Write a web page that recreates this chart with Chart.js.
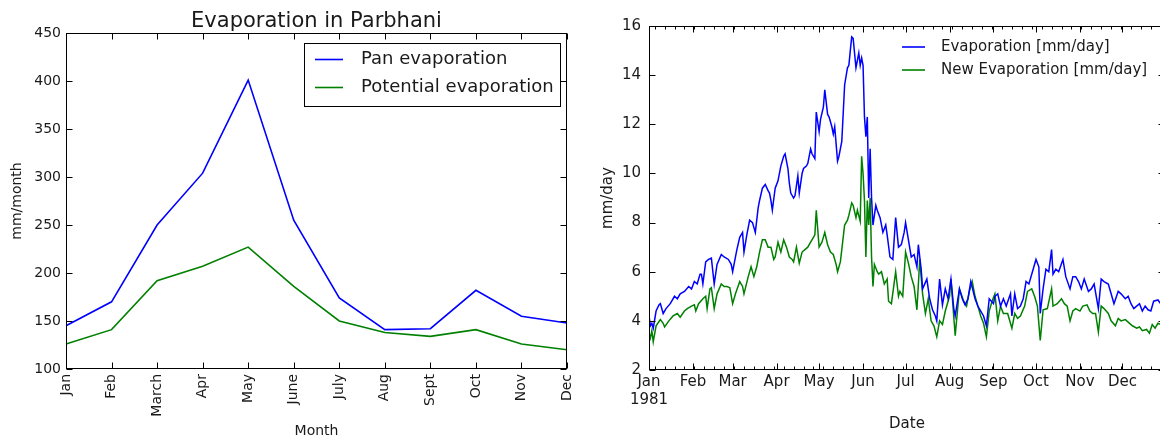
<!DOCTYPE html>
<html><head><meta charset="utf-8">
<script src="https://cdn.jsdelivr.net/npm/chart.js@4.4.1/dist/chart.umd.min.js"></script>
<style>
html,body{margin:0;padding:0;background:#fff;overflow:hidden;width:1160px;height:441px;}
#wrap{position:relative;width:1160px;height:441px;overflow:hidden;background:#fff;}
#c1{position:absolute;left:0;top:0;}
#c2{position:absolute;left:580px;top:0;}
</style></head><body>
<div id="wrap"><canvas id="c1" width="600" height="441"></canvas><canvas id="c2" width="610" height="441"></canvas></div>
<script>
// ---------- Left chart data ----------
const months = ['Jan','Feb','March','Apr','May','June','July','Aug','Sept','Oct','Nov','Dec'];
const panEvap = [145,170,250,304,401,255,174,141,142,182,155,148];
const potEvap = [126,141,192,207,227,186,150,138,134,141,126,120];
const leftTitle = 'Evaporation in Parbhani';
const leftYTicks = {min:100, max:450, step:50};

// ---------- Right chart data ----------
const monthNames = ['Jan','Feb','Mar','Apr','May','Jun','Jul','Aug','Sep','Oct','Nov','Dec'];
const monthStartDays = [0,31,59,90,120,151,181,212,243,273,304,334];
const yearLabel = '1981';
const rightYTicks = {min:2, max:16, step:2};
// [day of year, mm/day]
const evapDaily = [[0,4.2],[1,3.8],[2,3.9],[3,3.7],[5,4.4],[7,4.65],[8,4.7],[10,4.3],[12,4.5],[15,4.7],[18,5.0],[20,4.9],[22,5.1],[25,5.2],[28,5.4],[30,5.3],[32,5.6],[34,5.5],[36,5.9],[37,5.9],[38,5.5],[40,6.4],[42,6.5],[44,6.55],[46,5.5],[48,6.3],[51,6.7],[53,6.6],[56,6.5],[58,6.3],[59,6.0],[61,6.6],[62,6.9],[64,7.4],[66,7.6],[67,6.8],[69,7.5],[71,8.1],[73,8.0],[75,7.6],[77,8.6],[78,8.9],[80,9.4],[82,9.55],[84,9.3],[85,9.2],[86,8.9],[87,8.5],[89,9.4],[91,9.7],[93,10.3],[95,10.7],[96,10.8],[98,10.2],[99,9.6],[100,9.2],[102,9.0],[103,9.1],[105,9.9],[106,9.2],[108,10.0],[109,10.2],[111,10.3],[112,10.4],[114,11.0],[115,10.8],[117,10.6],[118,12.5],[120,11.7],[121,12.2],[123,12.7],[124,13.4],[126,12.4],[127,12.3],[129,11.9],[130,11.6],[131,11.9],[133,10.5],[134,10.7],[136,11.3],[138,13.6],[140,14.3],[141,14.4],[142,15.0],[143,15.56],[144,15.5],[146,14.3],[147,14.6],[148,14.9],[149,14.4],[150,14.7],[151,14.4],[152,12.3],[153,11.5],[154,12.3],[155,9.0],[156,11.0],[157,9.0],[158,7.9],[160,8.7],[161,8.5],[163,8.2],[165,7.6],[167,7.9],[168,7.5],[170,6.6],[172,6.5],[174,8.2],[176,7.0],[178,7.1],[180,7.6],[181,8.0],[183,7.3],[185,6.6],[187,6.7],[189,6.2],[190,7.1],[192,6.1],[193,5.3],[196,5.7],[198,4.9],[200,4.45],[202,4.2],[203,4.0],[205,5.7],[207,4.65],[209,5.3],[211,4.9],[213,5.7],[215,4.5],[216,4.2],[219,5.3],[221,4.9],[223,4.65],[225,4.9],[227,5.6],[230,4.9],[232,4.6],[234,4.4],[236,4.2],[238,3.8],[240,4.9],[243,4.7],[244,5.0],[246,5.1],[248,4.6],[250,4.9],[252,4.6],[255,5.1],[256,4.2],[258,5.1],[260,4.5],[262,4.6],[264,4.9],[266,5.6],[268,5.5],[271,6.1],[273,6.5],[275,6.2],[276,4.3],[278,5.3],[280,6.1],[282,6.0],[284,6.9],[285,5.9],[287,6.1],[289,6.0],[292,6.5],[294,5.8],[297,5.3],[299,5.8],[301,5.8],[303,5.6],[305,5.3],[307,5.7],[310,5.2],[312,5.3],[314,5.5],[317,4.5],[319,5.7],[321,5.6],[324,5.5],[326,5.1],[328,4.7],[331,5.2],[333,5.1],[336,4.9],[338,5.0],[340,4.7],[342,4.5],[344,4.6],[346,4.7],[348,4.4],[350,4.6],[352,4.45],[354,4.4],[356,4.8],[359,4.85],[361,4.7],[364,4.8]];
const newEvapDaily = [[0,3.5],[1,3.3],[2,3.6],[3,3.15],[5,3.8],[8,4.05],[10,3.9],[11,3.75],[14,4.0],[17,4.2],[20,4.3],[22,4.15],[25,4.4],[27,4.5],[30,4.6],[32,4.65],[33,4.4],[35,4.7],[38,4.9],[40,5.0],[41,4.5],[43,5.3],[44,5.35],[46,4.5],[48,5.1],[51,5.5],[53,5.4],[55,5.4],[57,5.35],[59,4.7],[61,5.1],[64,5.6],[66,5.4],[67,5.1],[70,5.8],[72,6.2],[74,5.8],[76,6.2],[78,6.8],[80,7.3],[82,7.3],[84,7.0],[86,7.0],[88,6.5],[89,6.6],[91,7.2],[93,6.8],[95,7.3],[97,7.0],[99,6.6],[101,6.5],[102,6.4],[104,7.0],[106,6.35],[108,6.8],[110,6.9],[112,7.0],[114,7.2],[116,7.4],[117,7.5],[118,8.5],[120,7.0],[122,7.2],[124,7.6],[126,7.1],[128,6.8],[130,6.7],[132,6.3],[133,6.0],[135,6.4],[138,7.9],[140,8.1],[141,8.3],[143,8.8],[144,8.7],[146,8.2],[147,8.5],[149,8.05],[150,10.7],[151,10.0],[152,8.9],[153,6.6],[154,8.9],[155,7.9],[156,9.0],[157,6.6],[158,5.4],[159,6.3],[161,6.0],[162,5.9],[164,6.0],[166,5.5],[168,5.7],[169,4.8],[171,4.7],[174,6.0],[176,5.0],[177,5.2],[179,5.0],[181,6.8],[183,6.35],[185,5.8],[187,5.4],[189,4.45],[191,6.5],[193,5.1],[195,4.3],[197,4.9],[199,4.0],[201,3.8],[203,3.35],[205,4.0],[207,3.85],[209,4.4],[212,5.0],[213,5.7],[216,3.4],[219,5.3],[222,4.8],[224,4.6],[226,5.2],[228,5.6],[230,5.0],[232,4.6],[234,4.2],[236,3.9],[238,3.35],[240,4.4],[242,4.8],[244,5.1],[246,4.0],[248,4.6],[250,4.3],[253,4.3],[256,3.7],[258,4.3],[260,4.1],[262,4.2],[265,4.6],[267,5.2],[270,5.3],[272,5.0],[274,4.6],[276,3.2],[278,4.45],[281,4.5],[284,5.3],[285,4.6],[288,4.7],[291,4.9],[293,4.7],[295,4.6],[297,4.0],[299,4.4],[301,4.5],[304,4.4],[306,4.6],[309,4.65],[311,4.4],[313,4.3],[315,4.3],[317,3.55],[319,4.6],[321,4.5],[324,4.3],[326,4.0],[329,3.8],[331,4.1],[333,4.0],[336,4.05],[339,3.9],[341,3.8],[344,3.7],[346,3.75],[348,3.6],[351,3.65],[353,3.5],[355,3.85],[357,3.7],[359,3.9],[361,3.85],[364,3.9]];

// ---------- styling ----------
const FAM = "'DejaVu Sans', 'Liberation Sans', sans-serif";
const TXT = '#1a1a1a';
const BLUE = '#0000ff';
const GREEN = '#008000';

const framePlugin = {
  id: 'frame',
  afterDatasetsDraw(chart, args, o) {
    const {ctx, chartArea: a, scales} = chart;
    const xs = scales.x, ys = scales.y;
    const L = Math.round(a.left) + 0.5, R = Math.round(a.right) - 0.5;
    const T = Math.round(a.top) + 0.5, B = Math.round(a.bottom) - 0.5;
    ctx.save();
    ctx.strokeStyle = '#000';
    ctx.lineWidth = 1;
    ctx.beginPath();
    const maj = o.majorLen || 6, mnr = o.minorLen || 3;
    const vt = (px, len) => { ctx.moveTo(px, B); ctx.lineTo(px, B - len); ctx.moveTo(px, T); ctx.lineTo(px, T + len); };
    xs.ticks.forEach((t, i) => vt(Math.round(xs.getPixelForTick(i)) + 0.5, maj));
    (o.xMinor || []).forEach(v => vt(Math.round(xs.getPixelForValue(v)) + 0.5, mnr));
    ys.ticks.forEach((t, i) => {
      const py = Math.round(ys.getPixelForTick(i)) + 0.5;
      ctx.moveTo(L, py); ctx.lineTo(L + maj, py);
      ctx.moveTo(R, py); ctx.lineTo(R - maj, py);
    });
    ctx.stroke();
    ctx.strokeRect(L, T, R - L, B - T);
    ctx.restore();
  }
};

const legendPlugin = {
  id: 'boxLegend',
  afterDraw(chart, args, o) {
    const ctx = chart.ctx;
    ctx.save();
    if (o.title) {
      ctx.font = o.titleFont;
      ctx.fillStyle = TXT;
      ctx.textAlign = 'center';
      ctx.textBaseline = 'alphabetic';
      ctx.fillText(o.title, (chart.chartArea.left + chart.chartArea.right) / 2, o.titleY);
    }
    if (o.box) {
      ctx.fillStyle = '#fff';
      ctx.fillRect(o.box[0], o.box[1], o.box[2], o.box[3]);
      ctx.strokeStyle = '#000';
      ctx.lineWidth = 1;
      ctx.strokeRect(o.box[0] + 0.5, o.box[1] + 0.5, o.box[2], o.box[3]);
    }
    ctx.font = o.font;
    ctx.textBaseline = 'middle';
    ctx.textAlign = 'left';
    chart.data.datasets.forEach((ds, i) => {
      const y = o.y0 + i * o.dy;
      ctx.strokeStyle = ds.borderColor;
      ctx.lineWidth = 1.6;
      ctx.beginPath(); ctx.moveTo(o.lineX0, y); ctx.lineTo(o.lineX1, y); ctx.stroke();
      ctx.fillStyle = TXT;
      ctx.fillText(ds.label, o.textX, y);
    });
    ctx.restore();
  }
};

// ---------- Left chart ----------
new Chart(document.getElementById('c1'), {
  type: 'line',
  data: {
    labels: months,
    datasets: [
      {label: 'Pan evaporation', data: panEvap, borderColor: BLUE, borderWidth: 1.6, pointRadius: 0, tension: 0, fill: false},
      {label: 'Potential evaporation', data: potEvap, borderColor: GREEN, borderWidth: 1.6, pointRadius: 0, tension: 0, fill: false}
    ]
  },
  options: {
    responsive: false, animation: false, devicePixelRatio: 1,
    layout: {padding: {top: 33, right: 33, bottom: 0, left: 0}},
    plugins: {
      legend: {display: false}, tooltip: {enabled: false}, title: {display: false},
      boxLegend: {title: leftTitle, titleFont: '21px ' + FAM, titleY: 27,
        box: [304, 43, 256, 63], font: '18px ' + FAM, y0: 59.5, dy: 28, lineX0: 315, lineX1: 343, textX: 361}
    },
    scales: {
      x: {
        type: 'category', offset: false,
        grid: {display: false, drawTicks: false}, border: {display: false},
        ticks: {minRotation: 90, maxRotation: 90, autoSkip: false, padding: 5, color: TXT, font: {family: FAM, size: 14}},
        title: {display: true, text: 'Month', color: TXT, font: {family: FAM, size: 14}, padding: {top: 0, bottom: 1.6}},
        afterFit(s) { s.height = 441 - 369; }
      },
      y: {
        min: leftYTicks.min, max: leftYTicks.max,
        grid: {display: false, drawTicks: false}, border: {display: false},
        ticks: {stepSize: leftYTicks.step, padding: 5, color: TXT, font: {family: FAM, size: 14}},
        title: {display: true, text: 'mm/month', color: TXT, font: {family: FAM, size: 14}, padding: {top: 8.6, bottom: 0}},
        afterFit(s) { s.width = 66; }
      }
    }
  },
  plugins: [framePlugin, legendPlugin]
});

// ---------- Right chart ----------
const weekMinor = [];
for (let d = 4; d <= 364; d += 7) weekMinor.push(d);

new Chart(document.getElementById('c2'), {
  type: 'line',
  data: {
    datasets: [
      {label: 'Evaporation [mm/day]', data: evapDaily.map(p => ({x: p[0], y: p[1]})), borderColor: BLUE, borderWidth: 1.5, pointRadius: 0, tension: 0, fill: false},
      {label: 'New Evaporation [mm/day]', data: newEvapDaily.map(p => ({x: p[0], y: p[1]})), borderColor: GREEN, borderWidth: 1.5, pointRadius: 0, tension: 0, fill: false}
    ]
  },
  options: {
    responsive: false, animation: false, devicePixelRatio: 1,
    layout: {padding: {top: 26, right: 25, bottom: 0, left: 0}},
    plugins: {
      legend: {display: false}, tooltip: {enabled: false}, title: {display: false},
      frame: {xMinor: weekMinor, majorLen: 6, minorLen: 3},
      boxLegend: {font: '15px ' + FAM, y0: 47, dy: 23, lineX0: 322, lineX1: 345, textX: 361}
    },
    scales: {
      x: {
        type: 'linear', min: 0, max: 364,
        grid: {display: false, drawTicks: false}, border: {display: false},
        afterBuildTicks(s) { s.ticks = monthStartDays.map(v => ({value: v})); },
        ticks: {
          autoSkip: false, maxRotation: 0, minRotation: 0, padding: 3, color: TXT, font: {family: FAM, size: 15},
          callback(value) {
            const i = monthStartDays.indexOf(value);
            return i === 0 ? [monthNames[0], yearLabel] : monthNames[i];
          }
        },
        title: {display: true, text: 'Date', color: TXT, font: {family: FAM, size: 15}, padding: {top: 0, bottom: 8}},
        afterFit(s) { s.height = 441 - 370; }
      },
      y: {
        min: rightYTicks.min, max: rightYTicks.max,
        grid: {display: false, drawTicks: false}, border: {display: false},
        ticks: {stepSize: rightYTicks.step, padding: 8, color: TXT, font: {family: FAM, size: 15}},
        title: {display: true, text: 'mm/day', color: TXT, font: {family: FAM, size: 15}, padding: {top: 18.8, bottom: 0}},
        afterFit(s) { s.width = 69; }
      }
    }
  },
  plugins: [framePlugin, legendPlugin]
});
</script>
</body></html>
